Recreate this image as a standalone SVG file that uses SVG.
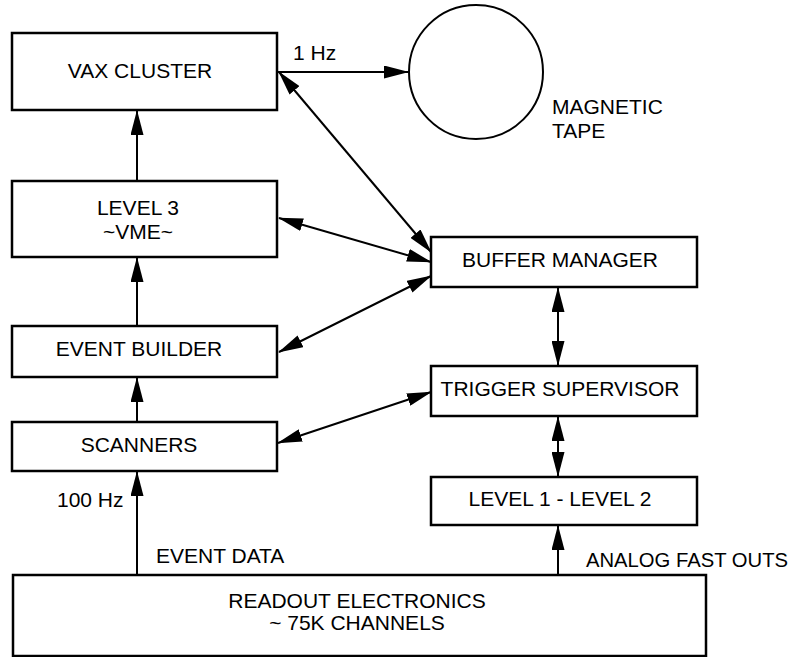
<svg xmlns="http://www.w3.org/2000/svg" width="795" height="657" viewBox="0 0 795 657">
<defs>
<marker id="ah" markerUnits="userSpaceOnUse" markerWidth="25" markerHeight="13" refX="24" refY="6.5" orient="auto-start-reverse" viewBox="0 0 25 13">
<path d="M0,0 L25,6.5 L0,13 z" fill="#000"/>
</marker>
<style>
.box{fill:#fff;stroke:#000;stroke-width:2.5}
.t{font-family:"Liberation Sans",Arial,sans-serif;font-size:21px;fill:#000}
.c{text-anchor:middle}
.ln{stroke:#000;stroke-width:2;fill:none}
.one{marker-end:url(#ah)}
.two{marker-start:url(#ah);marker-end:url(#ah)}
</style>
</defs>
<rect width="795" height="657" fill="#fff"/>
<g id="connectors">
<line class="ln one" x1="278" y1="72" x2="408" y2="72"/>
<line class="ln one" x1="137" y1="181" x2="137" y2="111"/>
<line class="ln one" x1="137" y1="326" x2="137" y2="258"/>
<line class="ln one" x1="137" y1="422" x2="137" y2="378"/>
<line class="ln one" x1="137" y1="575" x2="137" y2="472"/>
<line class="ln one" x1="558" y1="575" x2="558" y2="526"/>
<line class="ln two" x1="558" y1="288" x2="558" y2="365"/>
<line class="ln two" x1="558" y1="417" x2="558" y2="476"/>
<line class="ln two" x1="279" y1="72" x2="431" y2="252"/>
<line class="ln two" x1="279" y1="218" x2="431" y2="262"/>
<line class="ln two" x1="279" y1="352" x2="431" y2="276"/>
<line class="ln two" x1="278" y1="443" x2="431" y2="392"/>
</g>
<g id="vax"><rect class="box" x="12" y="33" width="265" height="77"/><text class="t c" x="140" y="78">VAX CLUSTER</text></g>
<g id="tape"><circle cx="476" cy="72" r="67" fill="#fff" stroke="#000" stroke-width="2"/><text class="t" x="552" y="114">MAGNETIC</text><text class="t" x="552" y="138">TAPE</text></g>
<g id="level3"><rect class="box" x="12" y="181" width="265" height="76"/><text class="t c" x="138" y="215">LEVEL 3</text><text class="t c" x="138" y="239">~VME~</text></g>
<g id="eventbuilder"><rect class="box" x="12" y="326" width="265" height="51"/><text class="t c" x="139" y="356">EVENT BUILDER</text></g>
<g id="scanners"><rect class="box" x="12" y="422" width="265" height="49"/><text class="t c" x="139" y="452">SCANNERS</text></g>
<g id="buffermanager"><rect class="box" x="431" y="237" width="266" height="50"/><text class="t c" x="560" y="267">BUFFER MANAGER</text></g>
<g id="triggersupervisor"><rect class="box" x="431" y="366" width="266" height="50"/><text class="t c" x="560" y="396">TRIGGER SUPERVISOR</text></g>
<g id="level12"><rect class="box" x="431" y="477" width="266" height="48"/><text class="t c" x="560" y="506">LEVEL 1 - LEVEL 2</text></g>
<g id="readout"><rect class="box" x="13" y="575" width="693" height="81"/><text class="t c" x="357" y="608">READOUT ELECTRONICS</text><text class="t c" x="357" y="630">~ 75K CHANNELS</text></g>
<g id="labels">
<text class="t" x="293" y="60">1 Hz</text>
<text class="t" x="57" y="507">100 Hz</text>
<text class="t" x="156" y="563">EVENT DATA</text>
<text class="t" x="586" y="567" style="font-size:20px" textLength="202" lengthAdjust="spacingAndGlyphs">ANALOG FAST OUTS</text>
</g>
</svg>
